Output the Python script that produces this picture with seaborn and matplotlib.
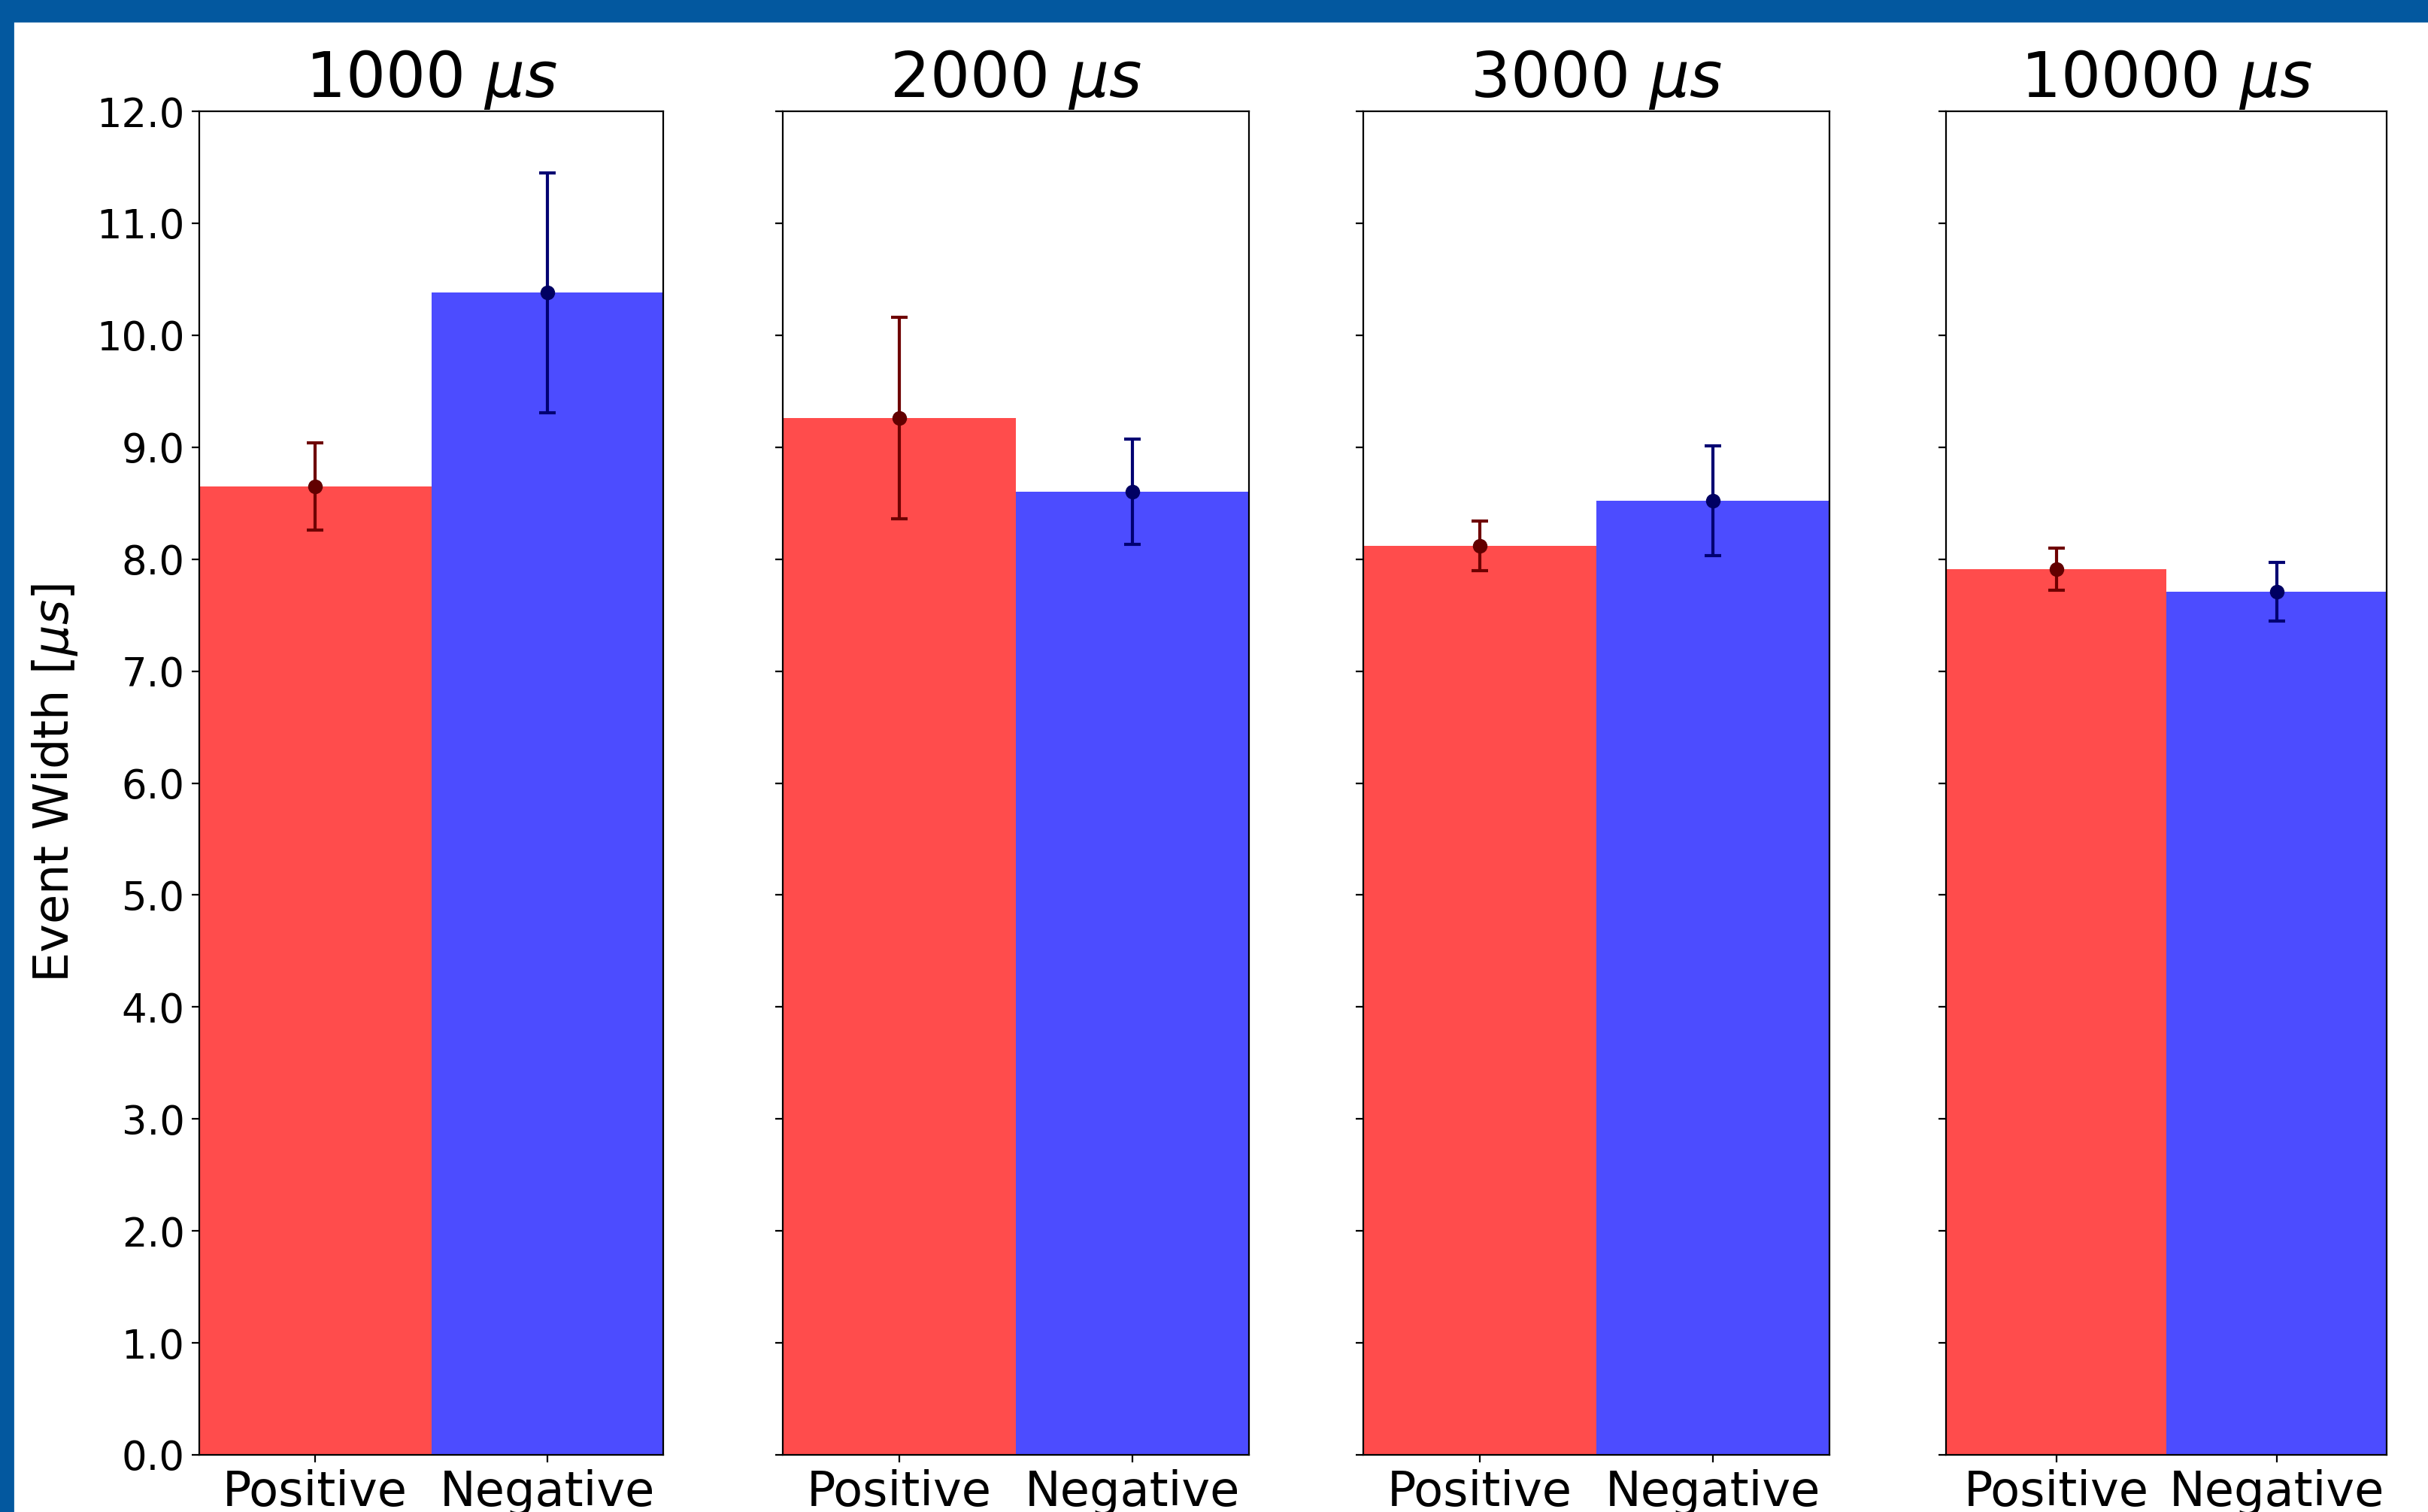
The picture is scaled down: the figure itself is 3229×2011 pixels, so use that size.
import numpy as np
import pandas as pd
import matplotlib
matplotlib.use('Agg')
import matplotlib.pyplot as plt
import seaborn as sns
from matplotlib.patches import Rectangle

# data
windows = ['1000', '2000', '3000', '10000']
polarities = ['Positive', 'Negative']
pos_width = [8.65, 9.26, 8.12, 7.91]
pos_err = [0.39, 0.90, 0.22, 0.19]
neg_width = [10.38, 8.60, 8.52, 7.71]
neg_err = [1.07, 0.47, 0.49, 0.26]

rows = []
for i, w in enumerate(windows):
    rows.append((w, 'Positive', pos_width[i], pos_err[i]))
    rows.append((w, 'Negative', neg_width[i], neg_err[i]))
df = pd.DataFrame(rows, columns=['window', 'polarity', 'width', 'err'])

bar_colors = ['red', 'blue']
err_colors = ['#6e0000', '#000072']
dot_colors = ['#620000', '#000062']

W, H, DPI = 3229, 2011, 200
fig = plt.figure(figsize=(W / DPI, H / DPI), dpi=DPI)

# axes boxes in pixels (left, width)
boxes = [(265, 617), (1041, 620), (1813, 620), (2588, 586)]
ax_bottom = 1 - 1935 / H
ax_height = (1935 - 148) / H

axes = []
for i, (w, (x0, wd)) in enumerate(zip(windows, boxes)):
    ax = fig.add_axes([x0 / W, ax_bottom, wd / W, ax_height])
    axes.append(ax)
    sub = df[df['window'] == w]
    sns.barplot(data=sub, x='polarity', y='width', hue='polarity',
                order=polarities, hue_order=polarities, palette=bar_colors,
                width=1.0, saturation=1, alpha=0.7, errorbar=None,
                legend=False, ax=ax)
    for j, pol in enumerate(polarities):
        r = sub[sub['polarity'] == pol].iloc[0]
        ax.errorbar([j], [r['width']], yerr=[r['err']], fmt='none',
                    ecolor=err_colors[j], elinewidth=1.5, capsize=4,
                    capthick=1.5, zorder=3)
        ax.plot([j], [r['width']], 'o', color=dot_colors[j], ms=6, zorder=4)

    ax.set_xlim(-0.5, 1.5)
    ax.set_ylim(0, 12)
    ax.set_yticks(np.arange(0, 13, 1))
    ax.set_title(f'{w} $\\mu s$', fontsize=30, pad=6)
    ax.set_xlabel('')
    ax.tick_params(axis='x', labelsize=23, length=3.5)
    ax.tick_params(axis='y', labelsize=19, length=3.5)
    if i == 0:
        ax.set_yticklabels([f'{v:.1f}' for v in np.arange(0, 13, 1)])
        ax.set_ylabel('Event Width [$\\mu s$]', fontsize=23, labelpad=8)
    else:
        ax.set_yticklabels([])
        ax.set_ylabel('')

# blue frame of the slide
frame = '#03589f'
fig.patches.append(Rectangle((0, 1 - 28 / H), 1, 28 / H, transform=fig.transFigure,
                             color=frame, zorder=10))
fig.patches.append(Rectangle((0, 0), 17 / W, 1, transform=fig.transFigure,
                             color=frame, zorder=10))

fig.savefig('out.png', dpi=DPI)
